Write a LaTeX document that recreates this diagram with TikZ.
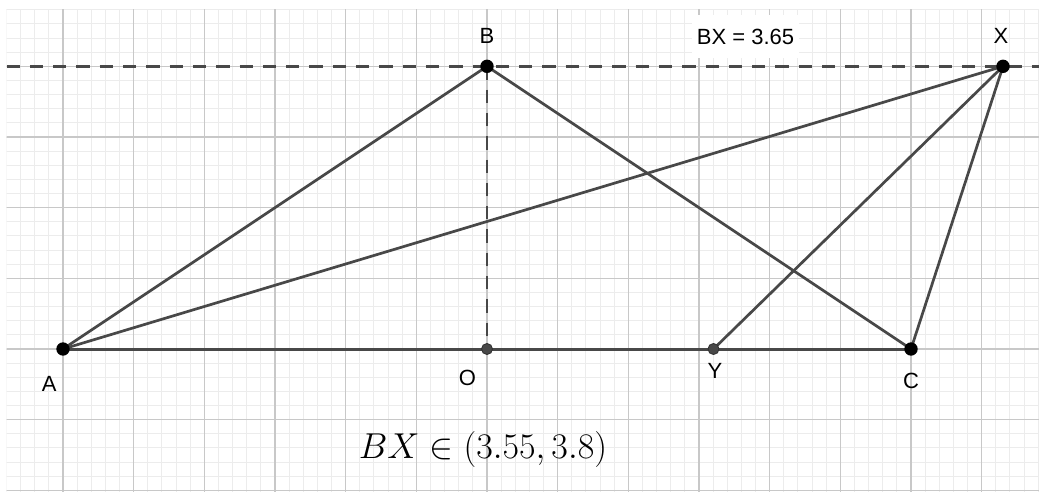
\RequirePackage{fix-cm}
\documentclass[tikz,border=0pt]{standalone}
\usepackage[no-math]{fontspec}
\newfontfamily\lab{Liberation Sans}
\definecolor{segc}{RGB}{72,72,72}
\definecolor{gmaj}{RGB}{200,200,200}
\definecolor{gmin}{RGB}{236,236,236}
\begin{document}
\begin{tikzpicture}[x=1pt,y=-1pt,
  seg/.style={draw=segc, line width=2.7pt, line cap=round},
  dashln/.style={draw=segc, line width=2.9pt, dash pattern=on 13.3pt off 10pt},
  bigpt/.style={circle, fill=black, inner sep=0pt, minimum size=13.4pt},
  smallpt/.style={circle, fill=segc, draw=black!80, line width=0.9pt, inner sep=0pt, minimum size=11pt},
  lbl/.style={font=\lab\fontsize{22}{26}\selectfont, inner sep=0pt, anchor=base}]
\useasboundingbox (0,0) rectangle (1039,492);
\fill[white] (0,0) rectangle (1039,492);
% grid
\begin{scope}
\clip (6.5,9.8) rectangle (1039,492);
\foreach \i in {0,...,73} \draw[gmin, line width=0.9pt] ({63+(\i-4)*14.1333},0) -- ++(0,492);
\foreach \j in {0,...,34} \draw[gmin, line width=0.9pt] (0,{9.8+\j*14.1333}) -- ++(1039,0);
\foreach \k in {0,...,13} \draw[gmaj, line width=1.3pt] ({63+\k*70.6667},0) -- ++(0,492);
\foreach \k in {0,...,6} \draw[gmaj, line width=1.3pt] (0,{66.3333+\k*70.6667}) -- ++(1039,0);
\end{scope}
% points
\coordinate (A) at (63,349);
\coordinate (O) at (487,349);
\coordinate (Y) at (713.5,349);
\coordinate (C) at (911,349);
\coordinate (B) at (487,66.33);
\coordinate (X) at (1003,66.33);
\coordinate (L) at (6.5,66.33);
\coordinate (R) at (1039,66.33);
% dashed lines
\draw[dashln] (L) -- (R);
\draw[dashln] (B) -- (O);
% segments
\draw[seg, line width=3pt] (A) -- (C);
\draw[seg] (A) -- (B);
\draw[seg] (A) -- (X);
\draw[seg] (B) -- (C);
\draw[seg] (X) -- (Y);
\draw[seg] (X) -- (C);
% point markers
\node[bigpt] (pA) at (A) {};
\node[bigpt] (pB) at (B) {};
\node[bigpt] (pC) at (C) {};
\node[bigpt] (pX) at (X) {};
\node[smallpt] (pO) at (O) {};
\node[smallpt] (pY) at (Y) {};
% labels
\node[lbl] (lA) at (49.3,391) {A};
\node[lbl] (lB) at (487,44) {B};
\node[lbl] (lC) at (911,388) {C};
\node[lbl] (lX) at (1001,43.3) {X};
\node[lbl] (lO) at (467.5,385.5) {O};
\node[lbl] (lY) at (715,378) {Y};
\node[font=\lab\fontsize{22}{26}\selectfont, fill=white, text height=16pt, text depth=0pt,
      inner xsep=5pt, inner ysep=13.5pt] (bx) at (745.5,36.5) {BX = 3.65};
\node[font=\fontsize{36}{43}\selectfont, anchor=base, inner sep=0pt] (f) at (483,458) {$BX \in (3.55, 3.8)$};
\end{tikzpicture}
\end{document}
